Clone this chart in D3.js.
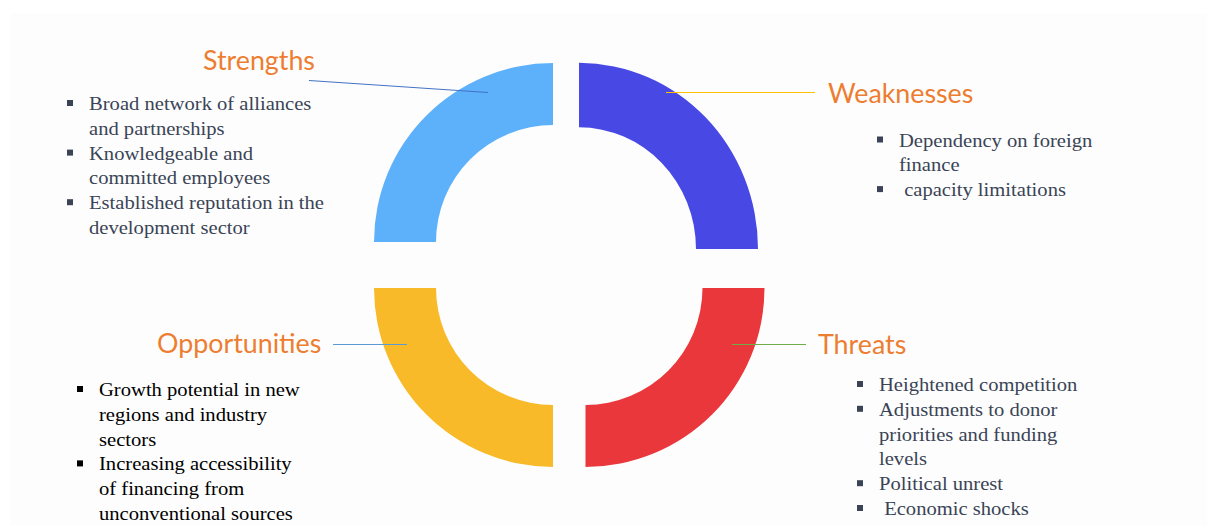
<!DOCTYPE html>
<html>
<head>
<meta charset="utf-8">
<script src="https://cdn.jsdelivr.net/npm/d3@7"></script>
<style>
  html, body { margin: 0; padding: 0; background: #fff; }
  svg { display: block; }
</style>
</head>
<body>
<script>
const w = 1213, h = 525;

// quadrants, clockwise from 12 o'clock
const categories = ['Weaknesses', 'Threats', 'Opportunities', 'Strengths'];
const values = [1, 1, 1, 1];
const ringColors = ['#4849E4', '#E9373B', '#F8BA28', '#5DB1FA'];
const leaderColors = ['#FFC000', '#70AD47', '#5B9BD5', '#4472C4'];

const strengthsItems = [
  ['Broad network of alliances', 'and partnerships'],
  ['Knowledgeable and', 'committed employees'],
  ['Established reputation in the', 'development sector']
];
const weaknessesItems = [
  ['Dependency on foreign', 'finance'],
  [' capacity limitations']
];
const opportunitiesItems = [
  ['Growth potential in new', 'regions and industry', 'sectors'],
  ['Increasing accessibility', 'of financing from', 'unconventional sources']
];
const threatsItems = [
  ['Heightened competition'],
  ['Adjustments to donor', 'priorities and funding', 'levels'],
  ['Political unrest'],
  [' Economic shocks']
];
const itemsByCat = {
  Weaknesses: weaknessesItems,
  Threats: threatsItems,
  Opportunities: opportunitiesItems,
  Strengths: strengthsItems
};

// layout for each quadrant (ring centre, title, leader line, bullet block)
const layout = {
  Weaknesses:    {cx: 579, cy: 249, sy: 1.04, title: [828, 103], line: [[666, 92.5], [815, 92.5]], list: [877, 899, 146.5], textColor: '#3A4456'},
  Threats:       {cx: 585.5, cy: 288, sy: 1, title: [818, 354], line: [[732, 344.5], [806, 344.5]], list: [857, 879, 391], textColor: '#3A4456'},
  Opportunities: {cx: 553, cy: 288, sy: 1, title: [157, 353], line: [[333, 344.5], [407, 344.5]], list: [77, 99, 396], textColor: '#000'},
  Strengths:     {cx: 553, cy: 242, sy: 1, title: [203, 70], line: [[309, 80.5], [488, 92.5]], list: [67, 89, 110], textColor: '#3A4456'}
};

const svg = d3.select('body').append('svg')
  .attr('width', w)
  .attr('height', h);

// slide background
svg.append('rect')
  .attr('x', 10).attr('y', 13)
  .attr('width', w - 16).attr('height', h - 13)
  .attr('fill', '#FDFDFD');

const pie = d3.pie().sort(null).value(d => d)(values);

const arc = d3.arc()
  .innerRadius(117)
  .outerRadius(179);

const color = d3.scaleOrdinal().domain(categories).range(ringColors);
const leader = d3.scaleOrdinal().domain(categories).range(leaderColors);

svg.selectAll('path.ring')
  .data(pie)
  .enter()
  .append('path')
  .attr('class', 'ring')
  .attr('transform', (d, i) => {
    const l = layout[categories[i]];
    return `translate(${l.cx},${l.cy}) scale(1,${l.sy})`;
  })
  .attr('d', arc)
  .attr('fill', (d, i) => color(categories[i]));

// leader lines
svg.selectAll('line.leader')
  .data(categories)
  .enter()
  .append('line')
  .attr('class', 'leader')
  .attr('x1', d => layout[d].line[0][0])
  .attr('y1', d => layout[d].line[0][1])
  .attr('x2', d => layout[d].line[1][0])
  .attr('y2', d => layout[d].line[1][1])
  .attr('stroke', d => leader(d))
  .attr('stroke-width', 1.2);

// titles
svg.selectAll('text.title')
  .data(categories)
  .enter()
  .append('text')
  .attr('class', 'title')
  .attr('x', d => layout[d].title[0])
  .attr('y', d => layout[d].title[1])
  .attr('font-family', 'Lato, "Open Sans", sans-serif')
  .attr('font-size', '26.8px')
  .attr('fill', '#ED7D31')
  .text(d => d);

// bullet lists (serif text is a bit wider in the original, so stretch it)
const lineH = 24.8;
const stretch = 1.145;
categories.forEach(cat => {
  const l = layout[cat];
  const g = svg.append('g');
  let row = 0;
  itemsByCat[cat].forEach(item => {
    const y0 = l.list[2] + row * lineH;
    g.append('rect')
      .attr('x', l.list[0])
      .attr('y', y0 - 10)
      .attr('width', 6)
      .attr('height', 6)
      .attr('fill', l.textColor);
    item.forEach((txt, j) => {
      g.append('text')
        .attr('transform', `translate(${l.list[1]},${y0 + j * lineH}) scale(${stretch},1)`)
        .attr('font-family', '"Liberation Serif", "Times New Roman", serif')
        .attr('font-size', '18px')
        .attr('fill', l.textColor)
        .attr('xml:space', 'preserve')
        .style('white-space', 'pre')
        .text(txt);
    });
    row += item.length;
  });
});
</script>
</body>
</html>
